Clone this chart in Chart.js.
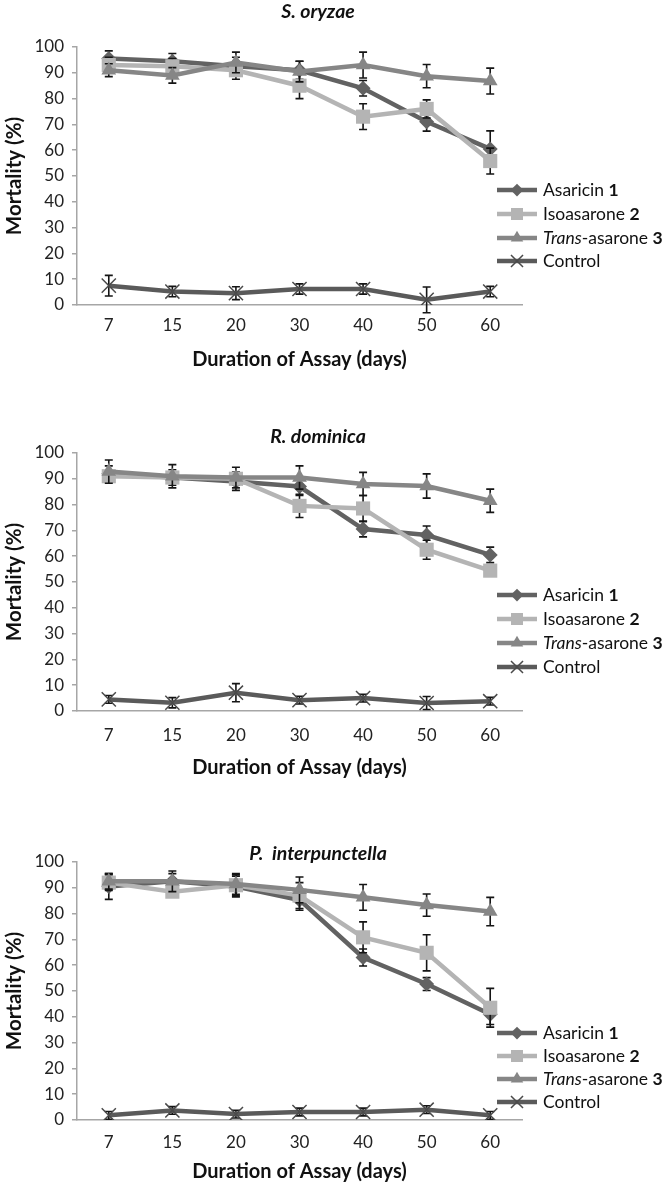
<!DOCTYPE html>
<html>
<head>
<meta charset="utf-8">
<script src="https://cdn.jsdelivr.net/npm/chart.js@4.4.1/dist/chart.umd.min.js"></script>
<style>
  html, body { margin: 0; padding: 0; background: #fff; }
  body { width: 666px; height: 1189px; position: relative; overflow: hidden; }
  .panel { position: absolute; left: 0; width: 666px; height: 406px; }
</style>
</head>
<body>
<div class="panel" style="top:0px"><canvas id="c1" width="666" height="406"></canvas></div>
<div class="panel" style="top:406px"><canvas id="c2" width="666" height="406"></canvas></div>
<div class="panel" style="top:815px"><canvas id="c3" width="666" height="406"></canvas></div>
<script>
const days = ["7", "15", "20", "30", "40", "50", "60"];
const yTicks = [0, 10, 20, 30, 40, 50, 60, 70, 80, 90, 100];

// legend text pieces: [text, style]
const seriesLabels = [
    [["Asaricin ", "normal"], ["1", "bold"]],
    [["Isoasarone ", "normal"], ["2", "bold"]],
    [["Trans", "italic"], ["-asarone ", "normal"], ["3", "bold"]],
    [["Control", "normal"]]
];

// S. oryzae
const oryzaeAsaricin = [95.5, 94.5, 92.5, 91, 84, 71, 60.5];
const oryzaeAsaricinErr = [3, 3, 3.5, 3.5, 3, 3.6, 7];
const oryzaeIso = [93, 92.5, 91, 85, 73, 76, 55.8];
const oryzaeIsoErr = [3, 3, 3.5, 5, 5, 3.5, 5];
const oryzaeTrans = [91, 89, 94, 90.5, 93, 88.7, 86.8];
const oryzaeTransErr = [2.5, 3, 4, 4, 5, 4.5, 5];
const oryzaeControl = [7.5, 5.2, 4.6, 6.2, 6.2, 2, 5.2];
const oryzaeControlErr = [4, 2, 2.5, 2, 2, 5, 2];

// R. dominica
const dominicaAsaricin = [92, 90.5, 89, 87, 70.5, 68.2, 60.5];
const dominicaAsaricinErr = [3, 3, 3.5, 3.5, 3, 3.5, 3];
const dominicaIso = [91, 90.5, 90, 79.5, 78.5, 62.5, 54.4];
const dominicaIsoErr = [2, 2, 2.5, 4.5, 5, 3.7, 2];
const dominicaTrans = [92.8, 91, 90.5, 90.5, 88, 87.2, 81.5];
const dominicaTransErr = [4.5, 4.5, 4, 4.5, 4.5, 4.7, 4.5];
const dominicaControl = [4.5, 3.2, 7.1, 4.2, 5, 3.1, 3.8];
const dominicaControlErr = [1.5, 2, 3.5, 1.5, 1.5, 2.5, 1.5];

// P. interpunctella
const interpAsaricin = [90.5, 92.5, 90.5, 85.3, 63, 52.7, 41];
const interpAsaricinErr = [5, 3, 4, 4, 3.3, 2.5, 4];
const interpIso = [92, 88.5, 91, 87, 70.8, 64.8, 43.5];
const interpIsoErr = [3, 2, 4, 5, 6, 7, 7.5];
const interpTrans = [92.5, 92.5, 91.5, 89.2, 86.3, 83.3, 80.8];
const interpTransErr = [3, 4, 4, 5, 5, 4.3, 5.5];
const interpControl = [1.8, 3.7, 2.3, 3.1, 3.1, 4, 1.8];
const interpControlErr = [1.5, 1.5, 1.5, 1.5, 1.5, 1.5, 1.5];

const FONT = "Lato, 'Open Sans', sans-serif";

function makeDatasets(a, aErr, b, bErr, c, cErr, d, dErr) {
    return [
        { data: a, errors: aErr, borderColor: "#626262", backgroundColor: "#626262",
          pointStyle: "rectRot", pointRadius: 7.5, pointBackgroundColor: "#626262",
          pointBorderColor: "#626262", pointBorderWidth: 0, borderWidth: 4.5, order: 4 },
        { data: b, errors: bErr, borderColor: "#b4b4b4", backgroundColor: "#b4b4b4",
          pointStyle: "rect", pointRadius: 10, pointBackgroundColor: "#b4b4b4",
          pointBorderColor: "#b4b4b4", pointBorderWidth: 0, borderWidth: 4.5, order: 3 },
        { data: c, errors: cErr, borderColor: "#868686", backgroundColor: "#868686",
          pointStyle: "triangle", pointRadius: 8.5, pointBackgroundColor: "#868686",
          pointBorderColor: "#868686", pointBorderWidth: 0, borderWidth: 4.5, order: 2 },
        { data: d, errors: dErr, borderColor: "#5a5a5a", backgroundColor: "#5a5a5a",
          pointStyle: "crossRot", pointRadius: 10, pointBackgroundColor: "#5a5a5a",
          pointBorderColor: "#4a4a4a", pointBorderWidth: 1.5, borderWidth: 4.5, order: 1 }
    ];
}

const errorBars = {
    id: "errorBars",
    beforeDatasetDraw(chart, args) {
        const ds = chart.data.datasets[args.index];
        if (!ds.errors) return;
        const y = chart.scales.y;
        const ctx = chart.ctx;
        ctx.save();
        ctx.strokeStyle = "#151515";
        ctx.lineWidth = 1.6;
        args.meta.data.forEach((pt, i) => {
            const top = y.getPixelForValue(ds.data[i] + ds.errors[i]);
            const bot = y.getPixelForValue(ds.data[i] - ds.errors[i]);
            ctx.beginPath();
            ctx.moveTo(pt.x, top); ctx.lineTo(pt.x, bot);
            ctx.moveTo(pt.x - 4, top); ctx.lineTo(pt.x + 4, top);
            ctx.moveTo(pt.x - 4, bot); ctx.lineTo(pt.x + 4, bot);
            ctx.stroke();
        });
        ctx.restore();
    }
};

const panelText = {
    id: "panelText",
    afterDraw(chart, args, opts) {
        const ctx = chart.ctx;
        ctx.save();
        // title
        ctx.fillStyle = "#111";
        ctx.font = "italic bold 19.5px " + FONT;
        ctx.textAlign = "center";
        ctx.textBaseline = "middle";
        ctx.fillText(opts.title, opts.titleX, opts.titleY);
        // legend
        ctx.textAlign = "left";
        chart.data.datasets.forEach((ds, i) => {
            const y = opts.rows[i];
            ctx.strokeStyle = ds.borderColor;
            ctx.lineWidth = ds.borderWidth;
            ctx.beginPath();
            ctx.moveTo(497, y); ctx.lineTo(537, y);
            ctx.stroke();
            ctx.fillStyle = ds.pointBackgroundColor;
            ctx.strokeStyle = ds.pointBorderColor;
            ctx.lineWidth = ds.pointBorderWidth;
            Chart.helpers.drawPoint(ctx, {
                pointStyle: ds.pointStyle, radius: ds.pointRadius * 0.85,
                rotation: 0, borderWidth: ds.pointBorderWidth
            }, 517, y);
            let x = 543;
            ctx.fillStyle = "#111";
            seriesLabels[i].forEach(([t, s]) => {
                ctx.font = (s === "normal" ? "" : s + " ") + "17.5px " + FONT;
                ctx.fillText(t, x, y);
                x += ctx.measureText(t).width;
            });
        });
        ctx.restore();
    }
};

function makeChart(id, title, titleY, rows, datasets, tickPad, titlePadBottom) {
    return new Chart(document.getElementById(id), {
        type: "line",
        data: { labels: days, datasets: datasets },
        plugins: [errorBars, panelText],
        options: {
            responsive: false,
            animation: false,
            devicePixelRatio: 1,
            layout: { padding: { top: 47, left: 0, right: 144, bottom: 0 } },
            plugins: {
                legend: { display: false },
                tooltip: { enabled: false },
                panelText: { title: title, titleX: 318, titleY: titleY, rows: rows }
            },
            elements: { line: { tension: 0 } },
            scales: {
                x: {
                    offset: true,
                    grid: { display: false, drawTicks: false },
                    border: { display: true, color: "#a6a6a6", width: 1.5 },
                    ticks: { color: "#222", padding: tickPad, font: { family: FONT, size: 17 }, maxRotation: 0 },
                    title: {
                        display: true, text: "Duration of Assay (days)", color: "#111",
                        font: { family: FONT, size: 20, weight: "bold" },
                        padding: { top: 0, bottom: titlePadBottom }
                    },
                    afterFit(scale) { scale.height = 406 - 305; }
                },
                y: {
                    min: 0, max: 100,
                    afterBuildTicks(scale) { scale.ticks = yTicks.map(v => ({ value: v })); },
                    grid: { display: true, drawOnChartArea: false, drawTicks: true, tickLength: 5, color: "#a6a6a6", lineWidth: 1.5 },
                    border: { display: true, color: "#a6a6a6", width: 1.5 },
                    ticks: { color: "#222", padding: 8, font: { family: FONT, size: 17 } },
                    title: {
                        display: true, text: "Mortality (%)", color: "#111",
                        font: { family: FONT, size: 20.5, weight: "bold" },
                        padding: { top: 2, bottom: 0 }
                    },
                    afterFit(scale) { scale.width = 77; }
                }
            }
        }
    });
}

makeChart("c1", "S. oryzae", 12, [190, 214, 238, 261],
    makeDatasets(oryzaeAsaricin, oryzaeAsaricinErr, oryzaeIso, oryzaeIsoErr,
                 oryzaeTrans, oryzaeTransErr, oryzaeControl, oryzaeControlErr), 10, 34);
makeChart("c2", "R. dominica", 31, [189, 213, 237, 261],
    makeDatasets(dominicaAsaricin, dominicaAsaricinErr, dominicaIso, dominicaIsoErr,
                 dominicaTrans, dominicaTransErr, dominicaControl, dominicaControlErr), 14, 32);
makeChart("c3", "P.  interpunctella", 39, [218, 241, 264, 287],
    makeDatasets(interpAsaricin, interpAsaricinErr, interpIso, interpIsoErr,
                 interpTrans, interpTransErr, interpControl, interpControlErr), 12, 37);
</script>
</body>
</html>
